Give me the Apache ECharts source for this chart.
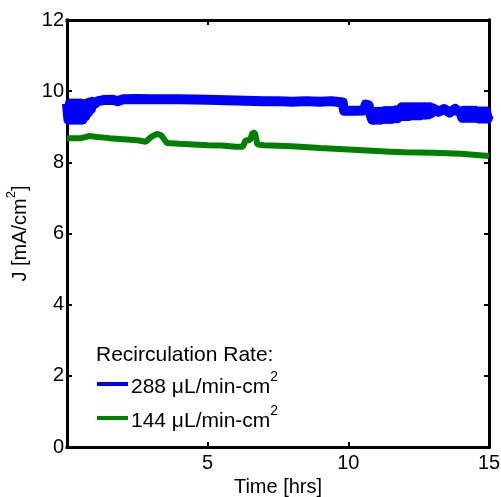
<!DOCTYPE html>
<html>
<head>
<meta charset="utf-8">
<script src="https://cdn.jsdelivr.net/npm/echarts@6/dist/echarts.min.js"></script>
<style>html,body{margin:0;padding:0;background:#fff}#c{width:501px;height:497px}</style>
</head>
<body>
<div id="c"></div>
<script>
// Time [hrs] and J [mA/cm2] for 288 uL/min-cm2 (blue); noisy envelope read as alternating points
var blueT = [0,0.05,0.1,0.15,0.2,0.25,0.3,0.35,0.4,0.45,0.5,0.55,0.6,0.65,0.7,0.75,0.8,0.85,0.9,1.0,1.1,1.3,1.6,1.8,2.0,2.5,3.0,4.0,5.0,6.0,7.0,7.5,8.0,8.5,9.0,9.4,9.8,9.85,10.2,10.55,10.62,10.72,10.8,
  10.85,10.9,10.95,11.0,11.05,11.1,11.15,11.2,11.25,11.3,11.35,11.4,11.45,11.5,11.55,11.6,11.65,11.7,11.75,11.8,11.85,11.9,11.95,12.0,12.05,12.1,12.15,12.2,12.25,12.3,12.35,12.4,12.45,12.5,12.55,12.6,12.65,12.7,12.75,12.8,12.85,12.9,12.95,13.0,13.2,13.4,13.6,13.8,14.0,
  14.05,14.1,14.15,14.2,14.25,14.3,14.35,14.4,14.45,14.5,14.55,14.6,14.65,14.7,14.75,14.8,14.85,14.9,14.95,15.0];
var blueJ = [9.65,9.2,9.65,9.2,9.65,9.2,9.65,9.2,9.65,9.2,9.65,9.2,9.62,9.3,9.65,9.4,9.68,9.5,9.7,9.65,9.72,9.75,9.76,9.72,9.77,9.78,9.77,9.77,9.76,9.74,9.72,9.72,9.7,9.72,9.7,9.72,9.68,9.45,9.45,9.46,9.62,9.6,9.32,
  9.2,9.42,9.2,9.42,9.2,9.42,9.2,9.42,9.22,9.44,9.22,9.44,9.22,9.44,9.22,9.44,9.24,9.46,9.24,9.46,9.3,9.55,9.3,9.55,9.3,9.55,9.3,9.55,9.32,9.55,9.32,9.55,9.32,9.55,9.32,9.55,9.34,9.55,9.34,9.55,9.35,9.55,9.38,9.52,9.42,9.5,9.4,9.5,9.38,
  9.25,9.45,9.25,9.45,9.25,9.45,9.25,9.45,9.25,9.45,9.25,9.43,9.23,9.43,9.23,9.43,9.23,9.43,9.23,9.33];
// 144 uL/min-cm2 (green)
var greenT = [0,0.5,0.8,1.0,1.5,2.0,2.5,2.8,3.0,3.2,3.35,3.55,4.0,4.5,5.0,5.5,6.0,6.25,6.35,6.5,6.6,6.68,6.77,7.0,8.0,9.0,10.0,11.0,11.5,12.0,13.0,14.0,15.0];
var greenJ = [8.68,8.68,8.74,8.72,8.68,8.65,8.62,8.58,8.72,8.8,8.76,8.54,8.52,8.5,8.48,8.47,8.44,8.44,8.62,8.62,8.84,8.82,8.5,8.48,8.45,8.4,8.36,8.32,8.3,8.28,8.27,8.24,8.18];
var seriesNames = ['{n|288 μL/min-cm}{s|2}', '{n|144 μL/min-cm}{s|2}'];
var xTicks = {min: 0, max: 15, interval: 5};
var yTicks = {min: 0, max: 12, interval: 2};

function pairs(t, v) { return t.map(function (x, i) { return [x, v[i]]; }); }

var FONT = 'Liberation Sans, Arial, sans-serif';
function axisLine() { return {show: true, onZero: false, lineStyle: {color: '#000', width: 3, cap: 'square'}}; }
function tick() { return {show: true, inside: true, length: 5, lineStyle: {color: '#000', width: 2}}; }

var chart = echarts.init(document.getElementById('c'), null, {renderer: 'canvas'});
chart.setOption({
  animation: false,
  backgroundColor: '#fff',
  grid: {left: 67, right: 12, top: 20, bottom: 50, containLabel: false, outerBoundsMode: 'none'},
  title: {
    text: 'Recirculation Rate:', left: 91, top: 340,
    textStyle: {fontFamily: FONT, fontSize: 21, fontWeight: 'normal', color: '#000'}
  },
  legend: {
    orient: 'vertical', left: 92, top: 365, itemGap: 6,
    itemWidth: 31, itemHeight: 4, icon: 'rect',
    data: [{name: seriesNames[0]}, {name: seriesNames[1]}],
    textStyle: {
      fontFamily: FONT, fontSize: 21, color: '#000', padding: [0, 0, 0, -2],
      rich: {
        n: {fontFamily: FONT, fontSize: 21, lineHeight: 28, verticalAlign: 'bottom', color: '#000'},
        s: {fontFamily: FONT, fontSize: 14, lineHeight: 14, verticalAlign: 'top', color: '#000'}
      }
    }
  },
  xAxis: [{
    type: 'value', min: xTicks.min, max: xTicks.max, interval: xTicks.interval,
    position: 'bottom',
    name: 'Time [hrs]', nameLocation: 'middle', nameGap: 27,
    nameTextStyle: {fontFamily: FONT, fontSize: 20, color: '#000'},
    axisLine: axisLine(), axisTick: tick(), splitLine: {show: false},
    axisLabel: {fontFamily: FONT, fontSize: 20, color: '#000', margin: 6, showMinLabel: false}
  }, {
    type: 'value', min: xTicks.min, max: xTicks.max, interval: xTicks.interval,
    position: 'top', axisLine: axisLine(), axisTick: tick(), splitLine: {show: false},
    axisLabel: {show: false}
  }],
  yAxis: [{
    type: 'value', min: yTicks.min, max: yTicks.max, interval: yTicks.interval,
    position: 'left',
    name: '{n|J [mA/cm}{s|2}{n|]}', nameLocation: 'middle', nameGap: 30,
    nameTextStyle: {fontFamily: FONT, fontSize: 20, color: '#000',
      rich: {
        n: {fontFamily: FONT, fontSize: 20, lineHeight: 26, verticalAlign: 'bottom', color: '#000'},
        s: {fontFamily: FONT, fontSize: 13, lineHeight: 13, verticalAlign: 'top', color: '#000'}
      }},
    axisLine: axisLine(), axisTick: tick(), splitLine: {show: false},
    axisLabel: {fontFamily: FONT, fontSize: 20, color: '#000', margin: 3}
  }, {
    type: 'value', min: yTicks.min, max: yTicks.max, interval: yTicks.interval,
    position: 'right', axisLine: axisLine(), axisTick: tick(), splitLine: {show: false},
    axisLabel: {show: false}
  }],
  series: [{
    name: seriesNames[0], type: 'line', data: pairs(blueT, blueJ),
    showSymbol: false, symbol: 'none', color: '#0000ff',
    lineStyle: {color: '#0000ff', width: 10, join: 'round'}
  }, {
    name: seriesNames[1], type: 'line', data: pairs(greenT, greenJ),
    showSymbol: false, symbol: 'none', color: '#008000',
    lineStyle: {color: '#008000', width: 6}
  }]
});
</script>
</body>
</html>
